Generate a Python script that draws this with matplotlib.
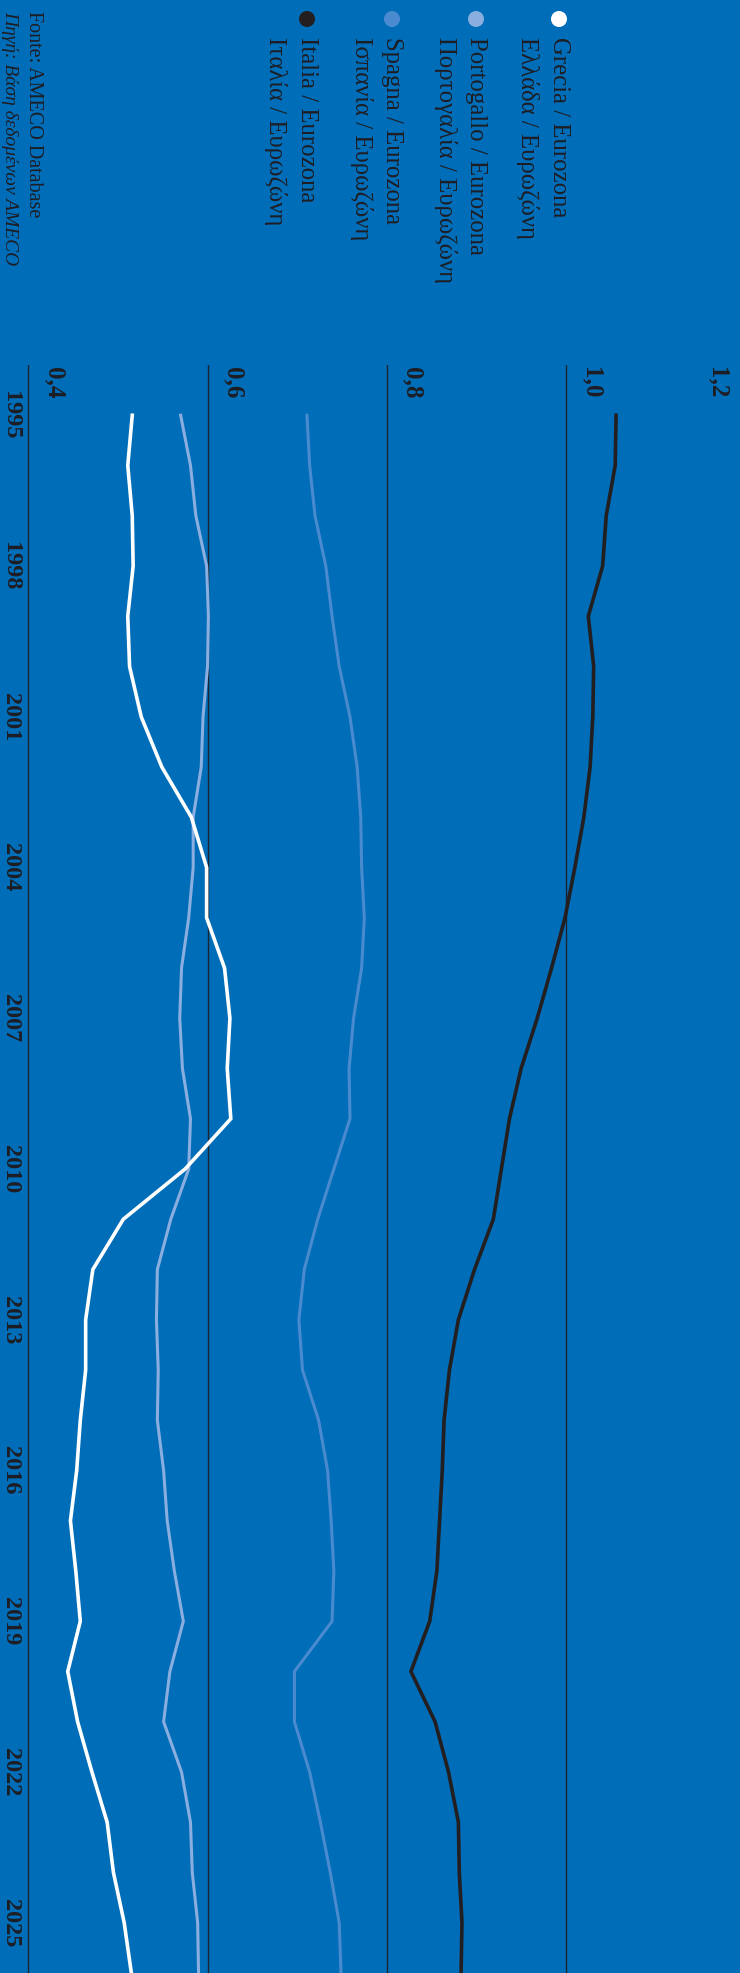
import matplotlib
matplotlib.use("Agg")
import matplotlib.pyplot as plt
import matplotlib.transforms as mtransforms
from matplotlib.patches import Ellipse

# ---------------- data ----------------
years = list(range(1995, 2027))
greece = [0.516, 0.511, 0.516, 0.517, 0.511, 0.513, 0.526, 0.549, 0.582, 0.599,
          0.599, 0.619, 0.625, 0.622, 0.626, 0.575, 0.506, 0.472, 0.464, 0.464,
          0.458, 0.454, 0.447, 0.453, 0.458, 0.444, 0.455, 0.471, 0.488, 0.495,
          0.507, 0.515]
portugal = [0.570, 0.581, 0.587, 0.599, 0.601, 0.600, 0.595, 0.593, 0.584, 0.584,
            0.579, 0.571, 0.569, 0.572, 0.581, 0.579, 0.559, 0.544, 0.543, 0.545,
            0.544, 0.551, 0.555, 0.563, 0.573, 0.558, 0.551, 0.571, 0.581, 0.583,
            0.589, 0.590]
spain = [0.711, 0.714, 0.720, 0.732, 0.739, 0.747, 0.759, 0.767, 0.771, 0.772,
         0.775, 0.772, 0.763, 0.758, 0.759, 0.741, 0.723, 0.708, 0.702, 0.706,
         0.724, 0.734, 0.738, 0.741, 0.739, 0.697, 0.697, 0.714, 0.726, 0.737,
         0.747, 0.749]
italy = [1.056, 1.055, 1.045, 1.041, 1.025, 1.031, 1.030, 1.027, 1.020, 1.010,
         0.999, 0.984, 0.968, 0.950, 0.937, 0.928, 0.919, 0.898, 0.880, 0.870,
         0.864, 0.862, 0.859, 0.856, 0.848, 0.827, 0.854, 0.869, 0.880, 0.881,
         0.884, 0.883]

series_names_it = ["Grecia / Eurozona", "Portogallo / Eurozona",
                   "Spagna / Eurozona", "Italia / Eurozona"]
series_names_gr = ["Ελλάδα / Ευρωζώνη", "Πορτογαλία / Ευρωζώνη",
                   "Ισπανία / Ευρωζώνη", "Ιταλία / Ευρωζώνη"]
value_ticks = [0.4, 0.6, 0.8, 1.0, 1.2]
value_tick_labels = ["0,4", "0,6", "0,8", "1,0", "1,2"]
year_ticks = list(range(1995, 2026, 3))
source_it = "Fonte: AMECO Database"
source_gr = "Πηγή: Βάση δεδομένων AMECO"

# ---------------- style ----------------
BG = "#006DB8"
GRID = "#1c2430"
colors = ["#FFFFFF", "#8AAEE0", "#4A8BD0", "#231F20"]
widths = [2.6, 2.2, 2.2, 2.6]
SERIF = ["Liberation Serif", "DejaVu Serif"]
DARK = "#1e1e24"

W, H = 740, 1973
fig = plt.figure(figsize=(W / 100, H / 100), dpi=100)
fig.patch.set_facecolor(BG)

ax_top_px = 365
ax = fig.add_axes([0, 0, 1, 1 - ax_top_px / H])
ax.set_facecolor(BG)
ax.set_xlim(0.3684, 1.1943)
ax.set_ylim(2026.0, 1994.0)
for s in ax.spines.values():
    s.set_visible(False)
ax.set_xticks([])
ax.set_yticks([])

# gridlines
for v in value_ticks:
    if ax.get_xlim()[0] <= v <= ax.get_xlim()[1]:
        ax.axvline(v, color=GRID, lw=1.0, zorder=1)

# lines (drawn so Greece sits on top)
data = [greece, portugal, spain, italy]
for vals, c, lw in reversed(list(zip(data, colors, widths))):
    ax.plot(vals, years, color=c, lw=lw, solid_joinstyle="miter", zorder=3)

# value labels at top of axis (rotated)
dx = mtransforms.offset_copy(ax.transData, fig=fig, x=14, y=0, units="dots")
for v, lab in zip(value_ticks, value_tick_labels):
    if v <= ax.get_xlim()[1] - 0.03:
        trans = mtransforms.blended_transform_factory(dx, ax.transAxes)
        ax.text(v, 1 - 2 / (H - ax_top_px), lab, transform=trans, rotation=-90,
                ha="left", va="top", fontsize=18, fontweight="bold",
                family=SERIF, color=DARK)
    else:
        fig.text(729 / W, 1 - 367 / H, lab, rotation=-90, ha="right", va="top",
                 fontsize=18, fontweight="bold", family=SERIF, color=DARK)

# year labels on left side (rotated)
ytrans = mtransforms.blended_transform_factory(fig.transFigure, ax.transData)
for y in year_ticks:
    ax.text(10.5 / W, y, str(y), transform=ytrans, rotation=-90,
            ha="center", va="center", fontsize=17.5, fontweight="bold",
            family=SERIF, color=DARK)

# legend (rotated)
leg_x = [559, 476, 392, 307]
for xc, c, n1, n2 in zip(leg_x, colors, series_names_it, series_names_gr):
    fig.patches.append(Ellipse((xc / W, 1 - 19 / H), 16 / W, 16 / H,
                               transform=fig.transFigure, facecolor=c,
                               edgecolor="none"))
    fig.text(xc / W, 1 - 37 / H, n1, rotation=-90, ha="center", va="top",
             fontsize=17.8, family=SERIF, color=DARK)
    fig.text((xc - 31) / W, 1 - 37 / H, n2, rotation=-90, ha="center", va="top",
             fontsize=17.8, family=SERIF, color=DARK)

# source
fig.text(33 / W, 1 - 11 / H, source_it, rotation=-90, ha="center", va="top",
         fontsize=14.5, family=SERIF, color=DARK)
fig.text(10 / W, 1 - 11 / H, source_gr, rotation=-90, ha="center", va="top",
         fontsize=14, family=SERIF, style="italic", color=DARK)

fig.savefig("out.png", dpi=100, facecolor=BG)
